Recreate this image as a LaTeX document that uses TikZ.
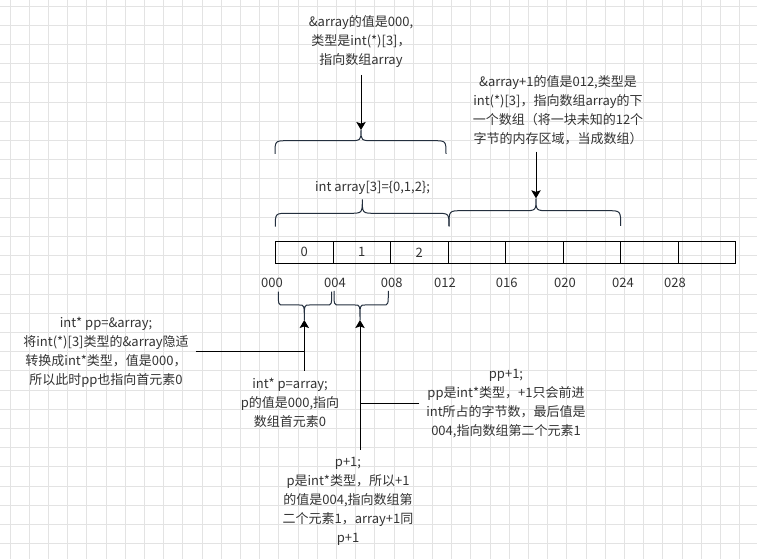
\documentclass[tikz,border=0pt]{standalone}
\usepackage{fontspec}
\setmainfont{Noto Sans CJK SC}
\usetikzlibrary{arrows.meta}
\definecolor{txt}{RGB}{51,51,51}
\definecolor{bracecol}{RGB}{35,47,62}
\tikzset{
  note/.style={align=center, text=txt, inner sep=5pt, font=\fontsize{9.75pt}{14.25pt}\selectfont},
  cellbox/.style={draw=black, line width=0.75pt, minimum width=43.125pt, minimum height=16.7pt, inner sep=0pt, text=txt, font=\fontsize{9.75pt}{11pt}\selectfont},
  brace/.style={draw=bracecol, line width=0.75pt},
  arr/.style={-{Stealth[length=6pt,width=7pt,inset=1.2pt]}, line width=0.75pt},
  link/.style={line width=0.75pt},
  gridline/.style={draw=gray!22, line width=0.6pt}
}
\newcommand{\curlyb}[7]{%
  \draw[brace] (#1,#4) .. controls (#1,#5) .. ({#1+#7},#5) -- ({#3-#7},#5)
    .. controls (#3,#5) .. (#3,#6) .. controls (#3,#5) .. ({#3+#7},#5)
    -- ({#2-#7},#5) .. controls (#2,#5) .. (#2,#4);}
\begin{document}
\begin{tikzpicture}[x=0.75pt,y=-0.75pt]
\useasboundingbox (0,0) rectangle (757,559);
\fill[white] (0,0) rectangle (757,559);
\foreach \i in {0,...,38}
  \draw[gridline] ({10+19.2*\i},0) -- ({10+19.2*\i},559);
\foreach \j in {0,...,28}
  \draw[gridline] (0,{6+19.2*\j}) -- (757,{6+19.2*\j});

\foreach \i in {0,...,7}
  \node[cellbox] (c\i) at ({304.25+57.5*\i},252.3) {};
\node[text=txt, font=\fontsize{9.75pt}{11pt}\selectfont] (v0) at (c0) {0};
\node[text=txt, font=\fontsize{9.75pt}{11pt}\selectfont] (v1) at (c1) {1};
\node[text=txt, font=\fontsize{9.75pt}{11pt}\selectfont] (v2) at (c2) {2};

\foreach \a/\x in {000/272,004/335,008/391.7,012/445,016/506.7,020/565,024/623,028/675}
  \node[note] (addr\a) at (\x,283) {\a};

\curlyb{275}{446}{361}{154}{140.7}{130}{13}
\curlyb{275.3}{449}{362.3}{226.7}{213.3}{199.3}{13}
\curlyb{449}{620.7}{536}{226}{210.7}{198.3}{13}
\curlyb{278.3}{331.7}{304.3}{291.7}{305}{320}{5}
\curlyb{334}{388.3}{360}{291}{305}{320}{5}

\coordinate (tipa) at (361,130);
\coordinate (tipc) at (536,198.3);
\coordinate (tipb) at (304.3,320);
\coordinate (tipd) at (360,320);

\node[note] (arrnote) at (361,42) {\&array的值是000,\\类型是int(*)[3]，\\指向数组array};
\node[note] (nextnote) at (558,110) {\&array+1的值是012,类型是\\int(*)[3]，指向数组array的下\\一个数组（将一块未知的12个\\字节的内存区域，当成数组）};
\node[note] (decl) at (372.5,188.3) {int array[3]=\{0,1,2\};};
\node[note] (ppnote) at (106,352) {int* pp=\&array;\\将int(*)[3]类型的\&array隐适\\转换成int*类型，值是000，\\所以此时pp也指向首元素0};
\node[note] (pnote) at (290,402.5) {int* p=array;\\p的值是000,指向\\数组首元素0};
\node[note] (ppinc) at (506,404) {pp+1;\\pp是int*类型，+1只会前进\\int所占的字节数，最后值是\\004,指向数组第二个元素1};
\node[note] (pinc) at (348,501) {p+1;\\p是int*类型，所以+1\\的值是004,指向数组第\\二个元素1，array+1同\\p+1};

\draw[arr] (arrnote.south -| tipa) -- (tipa);
\draw[arr] (nextnote.south -| tipc) -- (tipc);
\draw[arr] (pnote.north -| tipb) -- (tipb);
\draw[link] (ppnote.east) -- (ppnote.east -| tipb);
\draw[arr] (pinc.north -| tipd) -- (tipd);
\draw[link] (ppinc.west) -- (ppinc.west -| tipd);
\end{tikzpicture}
\end{document}
